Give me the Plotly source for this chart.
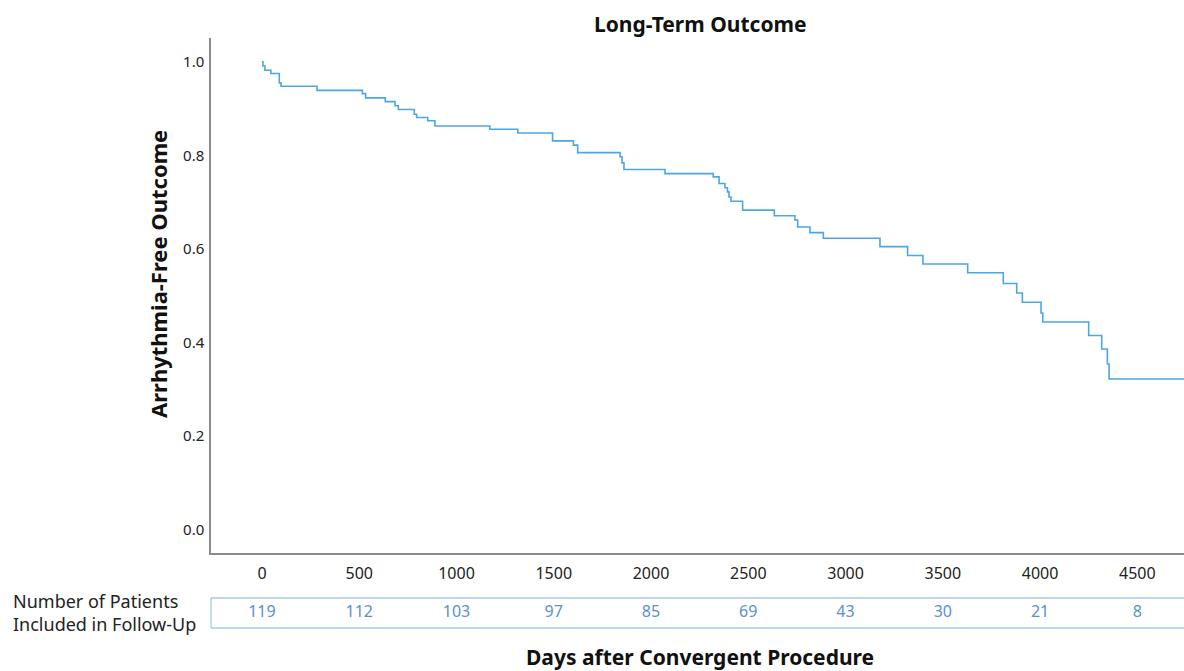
import plotly.graph_objects as go

# Kaplan-Meier step data (days after procedure, survival after event)
event_days = [0, 5, 15, 46, 89, 98, 283, 516, 533, 634, 684, 701, 783, 795, 852, 889,
              1171, 1315, 1494, 1601, 1623, 1841, 1851, 1861, 2072, 2320, 2350, 2380,
              2393, 2401, 2411, 2471, 2634, 2740, 2754, 2817, 2886, 3177, 3319, 3398,
              3628, 3811, 3880, 3909, 4005, 4014, 4250, 4317, 4346, 4355, 4740]
survival = [1.000, 0.991, 0.982, 0.975, 0.955, 0.948, 0.939, 0.932, 0.923, 0.915, 0.906,
            0.898, 0.888, 0.881, 0.874, 0.863, 0.856, 0.848, 0.831, 0.822, 0.806, 0.797,
            0.784, 0.770, 0.761, 0.754, 0.740, 0.731, 0.722, 0.711, 0.702, 0.683, 0.671,
            0.662, 0.647, 0.635, 0.623, 0.605, 0.586, 0.568, 0.549, 0.526, 0.506, 0.486,
            0.463, 0.444, 0.415, 0.386, 0.354, 0.322, 0.322]

risk_days = [0, 500, 1000, 1500, 2000, 2500, 3000, 3500, 4000, 4500]
risk_counts = [119, 112, 103, 97, 85, 69, 43, 30, 21, 8]

x_ticks = [0, 500, 1000, 1500, 2000, 2500, 3000, 3500, 4000, 4500]
y_ticks = [0.0, 0.2, 0.4, 0.6, 0.8, 1.0]

FONT = "Noto Sans"
LINE = "#4da6e3"
RISK = "#5b8fd3"
BOX = "#a8c8ee"
AXIS = "#8a8a8a"

W, H = 1184, 671
ml = 211
mt = 38
mb = 40
ph = H - mt - mb
pw = W - ml

def py(screen_y):
    return (H - mb - screen_y) / ph

def px(screen_x):
    return (screen_x - 211) / pw

fig = go.Figure()
fig.add_trace(go.Scatter(
    x=event_days, y=survival, mode="lines", line=dict(color=LINE, width=1.6, shape="hv"),
    xaxis="x", yaxis="y", showlegend=False, hoverinfo="skip"))
fig.add_trace(go.Scatter(
    x=risk_days, y=[0.5] * len(risk_days), mode="text",
    text=[str(c) for c in risk_counts],
    textfont=dict(family=FONT, size=16, color=RISK),
    xaxis="x", yaxis="y2", showlegend=False, hoverinfo="skip"))

fig.update_layout(
    width=W, height=H,
    margin=dict(l=ml, r=0, t=mt, b=mb),
    paper_bgcolor="white", plot_bgcolor="white",
    font=dict(family=FONT, size=15, color="#222222"),
    xaxis=dict(range=[-262, 4740], tickvals=x_ticks, ticktext=[str(t) for t in x_ticks],
               showline=True, linecolor=AXIS, linewidth=1.5, showgrid=False, zeroline=False,
               ticks="outside", ticklen=5, tickcolor="rgba(0,0,0,0)",
               tickfont=dict(family=FONT, size=16, color="#222222"),
               anchor="y"),
    yaxis=dict(domain=[py(553), 1.0], range=[-0.05, 1.051], tickvals=y_ticks,
               tickformat=".1f", showline=True, linecolor=AXIS, linewidth=1.5,
               showgrid=False, zeroline=False, ticks="outside", ticklen=2,
               tickcolor="rgba(0,0,0,0)",
               tickfont=dict(family=FONT, size=15, color="#222222")),
    yaxis2=dict(domain=[py(628), py(598)], range=[0, 1], visible=False, anchor="x"),
)

# risk table box lines
for yv in (0, 1):
    fig.add_shape(type="line", xref="paper", yref="y2 domain", x0=0, x1=1, y0=yv, y1=yv,
                  line=dict(color=BOX, width=1.3))
fig.add_shape(type="line", xref="paper", yref="y2 domain", x0=0, x1=0, y0=0, y1=1,
              line=dict(color=BOX, width=1.3))

fig.add_annotation(text="<b>Long-Term Outcome</b>", xref="paper", yref="paper",
                   x=px(700), y=py(24), xanchor="center", yanchor="middle",
                   showarrow=False, font=dict(family=FONT, size=21, color="#111111"))
fig.add_annotation(text="Number of Patients<br>Included in Follow-Up", xref="paper", yref="paper",
                   x=px(11), y=py(612), xanchor="left", yanchor="middle",
                   align="left", showarrow=False,
                   font=dict(family=FONT, size=18, color="#222222"))
fig.add_annotation(text="<b>Days after Convergent Procedure</b>", xref="paper", yref="paper",
                   x=px(700), y=py(657), xanchor="center", yanchor="middle",
                   showarrow=False, font=dict(family=FONT, size=21, color="#111111"))
fig.add_annotation(text="<b>Arrhythmia-Free Outcome</b>", xref="paper", yref="paper",
                   x=px(158), y=py(274), xanchor="center", yanchor="middle",
                   textangle=-90, showarrow=False,
                   font=dict(family=FONT, size=22, color="#111111"))

fig.write_html("out.html", config={"displayModeBar": False},
               post_script="document.body.style.margin='0';document.body.style.overflow='hidden';")
